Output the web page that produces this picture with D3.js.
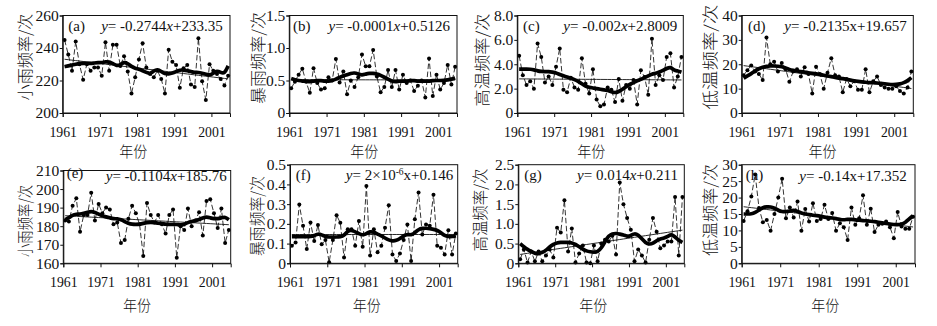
<!DOCTYPE html>
<html><head><meta charset="utf-8">
<script src="https://cdn.jsdelivr.net/npm/d3@7"></script>
<style>body{margin:0;background:#fff}</style>
</head><body>
<svg id="c" width="937" height="326"></svg>
<script>
// ---------- DATA ----------
const years = d3.range(1961, 2006);
const xTickYears = [1961, 1971, 1981, 1991, 2001];

// (a) 小雨频率 (period 1)
const lightRainA = [245,236,226,244,230,220.5,230,226,228,228,223,243.5,226,242,242,229,235,225.5,212,222,233,243,228,224,222,226,221,212,239,231.5,229.5,215.5,227.5,229.5,217.5,216,246,219.5,208,230,226,224,221,217,223];
const lightRainSmoothA = [228.5,229,229.5,230,230.5,230.5,230.5,230.5,230.8,231,231,231.5,231.5,230.5,229,229.5,231.5,230.5,228.5,227.5,227,226,225,224,226,227,225.5,224,224,224.5,225.5,226.5,226.5,226,225.5,225,225,224.5,224,223,224.5,226,225,224,229];
// (b) 暴雨频率
const rainstormB = [0.38,0.48,0.59,0.68,0.48,0.31,0.69,0.46,0.36,0.38,0.55,0.5,0.83,0.47,0.64,0.29,0.5,0.4,0.55,0.9,0.72,0.72,0.97,0.56,0.32,0.4,0.66,0.4,0.66,0.36,0.59,0.46,0.5,0.34,0.42,0.5,0.24,0.84,0.26,0.59,0.36,0.46,0.74,0.44,0.71];
const rainstormSmoothB = [0.53,0.51,0.5,0.49,0.49,0.48,0.49,0.5,0.5,0.49,0.49,0.5,0.52,0.55,0.57,0.59,0.61,0.62,0.6,0.58,0.6,0.61,0.61,0.6,0.58,0.55,0.52,0.49,0.48,0.49,0.49,0.49,0.5,0.5,0.49,0.49,0.49,0.49,0.5,0.5,0.5,0.5,0.51,0.52,0.54];
// (c) 高温频率
const heatC = [4.7,3.1,2.3,2.6,2.0,5.7,4.6,2.5,3.0,2.3,3.8,5.3,1.9,1.7,2.9,2.1,1.9,4.5,2.4,1.6,3.6,1.1,0.55,0.7,2.1,1.9,0.9,2.8,1.0,2.3,2.0,2.7,0.7,3.5,2.95,1.5,6.1,2.3,3.1,2.7,4.6,4.9,2.1,3.0,4.6];
const heatSmoothC = [3.6,3.6,3.6,3.6,3.55,3.45,3.4,3.4,3.4,3.35,3.3,3.15,3.05,2.95,2.85,2.75,2.6,2.4,2.2,2.1,2.05,2.0,1.95,1.9,1.85,1.75,1.65,1.75,1.95,2.15,2.35,2.5,2.65,2.75,2.9,3.05,3.2,3.25,3.35,3.5,3.65,3.8,3.5,3.45,3.35];
// (d) 低温频率
const coldD = [15.5,17.5,19.5,17,16,13.5,31,20,21,17,20.5,18,12.8,17,18,15,18.8,16,8,19,16,10,16.5,22.5,15.5,15,8.5,14,11,13,9.5,9.5,18,8.5,13,15,11.5,10.5,10,10,11,9,8,10.5,17];
const coldSmoothD = [14.3,15.2,16.1,17.3,18.2,18.8,19.2,19.3,19.3,19.2,19,18.5,17.8,17.5,17.2,17,16.8,16.5,16.3,16.1,15.8,15.5,15.2,14.9,14.6,14.3,14.1,13.8,13.5,13.2,13,12.8,12.6,12.5,12.4,12.3,12.2,12,11.8,11.6,11.7,11.9,12.4,13.2,14.5];
// (e) 小雨频率 (period 2)
const lightRainE = [183,182.5,191,195,177,186,186,198,183,192,187,190,189,181,182,171,172.5,184,191,187,181,164,192.5,186,182,186,181,176,186,189,163,180,178,189.5,180,183,187.5,175,193.5,194.5,187,179,189.5,171,178];
const lightRainSmoothE = [183.5,184.5,186,186.5,186.5,187,187.5,188,187.5,186.5,185.5,185,184.5,184,184,183.5,182.5,181.5,181,181,181,181.5,182,182,182,181.5,181.5,181,181,181,181,180.5,181,182,182.5,183,183.5,184.5,185,184.5,184,184,184.5,185,183.5];
// (f) 暴雨频率
const rainstormF = [0.089,0.106,0.298,0.19,0.072,0.207,0.113,0.194,0.096,0.118,0.005,0.118,0.244,0.205,0.029,0.173,0.173,0.089,0.214,0.084,0.392,0.039,0.173,0.056,0.089,0.18,0.295,0.045,0.012,0.05,0.118,0.197,0.012,0.224,0.359,0.146,0.197,0.19,0.348,0.089,0.079,0.045,0.168,0.045,0.151];
const rainstormSmoothF = [0.135,0.135,0.135,0.135,0.135,0.135,0.14,0.15,0.145,0.135,0.133,0.133,0.133,0.135,0.14,0.165,0.168,0.16,0.15,0.142,0.15,0.162,0.158,0.148,0.14,0.128,0.118,0.113,0.115,0.125,0.14,0.148,0.142,0.155,0.172,0.178,0.178,0.176,0.172,0.168,0.155,0.14,0.135,0.135,0.14];
// (g) 高温频率
const heatG = [0.1,0.35,0.02,0.3,0.05,0.3,0.05,0.2,0.35,0.15,0.9,0.78,1.6,0.3,0.88,0.02,0.25,0.45,0.02,0.0,0.45,0.05,0.5,0.6,0.55,0.7,0.22,2.05,1.5,1.15,0.85,0.05,0.35,0.2,0.02,0.6,1.15,0.8,0.38,0.45,0.55,0.55,1.68,0.2,1.68];
const heatSmoothG = [0.5,0.42,0.35,0.3,0.25,0.24,0.27,0.33,0.42,0.48,0.52,0.53,0.53,0.53,0.52,0.48,0.42,0.36,0.31,0.29,0.28,0.29,0.38,0.55,0.7,0.75,0.76,0.74,0.72,0.68,0.7,0.76,0.72,0.62,0.52,0.48,0.5,0.58,0.62,0.64,0.68,0.74,0.67,0.58,0.53];
// (h) 低温频率
const coldH = [12.9,15.8,20.3,27,16.8,12.5,13.2,9.9,15,20,25.7,13.7,17,13.9,18.8,9.9,16.5,12.7,18.3,12.9,13.5,17.8,13.5,15.3,9.9,12.2,11,7.1,17,11.7,13.7,20.7,11.7,16.6,9.5,11.7,12,12.7,11,7.6,15.6,11.2,10.5,10.5,14.2];
const coldSmoothH = [15,15,15,15.4,16.2,17,17.2,17.2,16.8,16.1,15.7,15.7,15.9,16.2,15.8,15.3,15,14.8,14.6,14.5,14.3,14,13.9,13.8,13.6,13.3,13.2,13.4,13.4,13.2,13.1,13,12.9,12.8,12.7,12.5,12.3,12.1,11.9,11.8,11.7,11.9,12.4,13.5,14.5];

// tick values
const yTicksA = [200,220,240,260];
const yTicksB = [0,0.5,1.0,1.5];
const yTicksC = [0,2,4,6,8];
const yTicksD = [0,10,20,30,40];
const yTicksE = [160,170,180,190,200,210];
const yTicksF = [0,0.1,0.2,0.3,0.4,0.5];
const yTicksG = [0,0.5,1.0,1.5,2.0,2.5];
const yTicksH = [0,5,10,15,20,25,30];
const yDecimals = [0,1,1,0,0,1,1,0];

// labels & regression
const panelLabels = ["(a)","(b)","(c)","(d)","(e)","(f)","(g)","(h)"];
const yTitles = ["小雨频率/次","暴雨频率/次","高温频率/次","低温频率/次","小雨频率/次","暴雨频率/次","高温频率/次","低温频率/次"];
const xTitle = "年份";
const slopes = [-0.2744,-0.0001,-0.002,-0.2135,-0.1104,2e-6,0.014,-0.14];
const intercepts = [233.35,0.5126,2.8009,19.657,185.76,0.146,0.211,17.352];
const slopeTexts = ["-0.2744","-0.0001","-0.002","-0.2135","-0.1104","2×10","0.014","-0.14"];
const slopeSup = ["","","","","","-6","",""];
const interceptTexts = ["233.35","0.5126","2.8009","19.657","185.76","0.146","0.211","17.352"];
const xItalic = [true,true,true,false,true,false,true,false];

// ---------- LAYOUT ----------
const layout = [
  {l:62.7,r:230,t:15.5,b:113, yt:[25,57,87], xt:-13, xtY:157, lab:68.3, labY:30.5, eqR:222.7, eqY:30.5},
  {l:289.3,r:457,t:15.5,b:113, yt:[258,58,92], xt:-9, xtY:157, lab:293, labY:30.5, eqR:450, eqY:30.5},
  {l:517.3,r:683.3,t:15.5,b:113, yt:[482,60,93], xt:-9, xtY:157, lab:523, labY:30.5, eqR:677.3, eqY:30.5},
  {l:741.7,r:913.3,t:15.5,b:113, yt:[710,57,105], xt:-5, xtY:157, lab:748, labY:30.5, eqR:906.7, eqY:30.5},
  {l:63.3,r:230.7,t:170.5,b:263.3, yt:[25,221,72], xt:-10, xtY:311, lab:66.7, labY:178, eqR:226.7, eqY:180.5},
  {l:290,r:457.7,t:164.7,b:263.3, yt:[257,216,80], xt:-7, xtY:311, lab:295.7, labY:179.5, eqR:453.3, eqY:180},
  {l:518.3,r:684.3,t:164.7,b:263.3, yt:[480,210,83], xt:-8, xtY:311, lab:524.3, labY:179.5, eqR:678, eqY:180},
  {l:741.7,r:915,t:164.7,b:263.3, yt:[710,210,92], xt:-3, xtY:311, lab:745.7, labY:180, eqR:906.7, eqY:180.5}
];

const panels = [
  {data: lightRainA, smooth: lightRainSmoothA, ticks: yTicksA},
  {data: rainstormB, smooth: rainstormSmoothB, ticks: yTicksB},
  {data: heatC, smooth: heatSmoothC, ticks: yTicksC},
  {data: coldD, smooth: coldSmoothD, ticks: yTicksD},
  {data: lightRainE, smooth: lightRainSmoothE, ticks: yTicksE},
  {data: rainstormF, smooth: rainstormSmoothF, ticks: yTicksF},
  {data: heatG, smooth: heatSmoothG, ticks: yTicksG},
  {data: coldH, smooth: coldSmoothH, ticks: yTicksH}
];

const SERIF = "'Liberation Serif','Times New Roman',serif";
const CJK = "'Noto Sans CJK SC','Noto Sans CJK JP',sans-serif";
const INK = "#111";
const svg = d3.select("#c");

panels.forEach((p, i) => {
  const L = layout[i];
  const x = d3.scaleLinear().domain([years[0] - 0.5, years[years.length - 1] + 0.5]).range([L.l, L.r]);
  const y = d3.scaleLinear().domain([p.ticks[0], p.ticks[p.ticks.length - 1]]).range([L.b, L.t]);
  const g = svg.append("g");

  // trend line
  const trend = years.map((yr, k) => ({yr, v: slopes[i] * (k + 1) + intercepts[i]}));
  g.append("path").datum(trend)
    .attr("d", d3.line().x(d => x(d.yr)).y(d => y(d.v)))
    .attr("fill", "none").attr("stroke", INK).attr("stroke-width", 0.9);

  // dashed observation line
  const obs = years.map((yr, k) => ({yr, v: p.data[k]}));
  g.append("path").datum(obs)
    .attr("d", d3.line().x(d => x(d.yr)).y(d => y(d.v)))
    .attr("fill", "none").attr("stroke", INK).attr("stroke-width", 0.85)
    .attr("stroke-dasharray", "5.5,2.5");

  // smoothed thick line
  const sm = years.map((yr, k) => ({yr, v: p.smooth[k]}));
  g.append("path").datum(sm)
    .attr("d", d3.line().curve(d3.curveBasis).x(d => x(d.yr)).y(d => y(d.v)))
    .attr("fill", "none").attr("stroke", "#000").attr("stroke-width", 3.7)
    .attr("stroke-linejoin", "round");

  // dots
  g.selectAll("circle.pt").data(obs).join("circle")
    .attr("cx", d => x(d.yr)).attr("cy", d => y(d.v)).attr("r", 2).attr("fill", "#000");

  // frame
  g.append("rect").attr("x", L.l).attr("y", L.t).attr("width", L.r - L.l).attr("height", L.b - L.t)
    .attr("fill", "none").attr("stroke", INK).attr("stroke-width", 1);

  // y axis
  const dec = yDecimals[i];
  const ya = g.append("g").attr("transform", `translate(${L.l},0)`)
    .call(d3.axisLeft(y).tickValues(p.ticks).tickSize(3).tickPadding(1)
      .tickFormat(d => d === 0 ? "0" : d.toFixed(dec)));
  ya.select(".domain").attr("stroke", INK);
  ya.selectAll("line").attr("stroke", INK);
  ya.selectAll("text").attr("font-family", SERIF).attr("font-size", 15.5).attr("fill", INK);

  // x axis (ticks at category boundaries)
  const xa = g.append("g").attr("transform", `translate(0,${L.b})`)
    .call(d3.axisBottom(x).tickValues(xTickYears.map(v => v - 0.5)).tickSize(4)
      .tickFormat(d => String(d + 0.5)));
  xa.select(".domain").attr("stroke", INK);
  xa.selectAll("line").attr("stroke", INK);
  xa.selectAll("text").attr("font-family", SERIF).attr("font-size", 15.5).attr("fill", INK)
    .attr("y", 24).attr("dy", 0).attr("textLength", 27.5).attr("lengthAdjust", "spacingAndGlyphs");

  // x title
  g.append("text").attr("x", (L.l + L.r) / 2 + L.xt).attr("y", L.xtY)
    .attr("text-anchor", "middle").attr("font-family", CJK).attr("font-weight", 300)
    .attr("font-size", 15).attr("fill", INK)
    .attr("textLength", 28).attr("lengthAdjust", "spacingAndGlyphs").text(xTitle);

  // y title
  g.append("text").attr("transform", `translate(${L.yt[0] + 6},${L.yt[1]}) rotate(-90)`)
    .attr("text-anchor", "middle").attr("font-family", CJK).attr("font-weight", 300)
    .attr("font-size", 16).attr("fill", INK)
    .attr("textLength", L.yt[2]).attr("lengthAdjust", "spacingAndGlyphs").text(yTitles[i]);

  // panel label
  g.append("text").attr("x", L.lab).attr("y", L.labY).attr("font-family", SERIF).attr("font-size", 15)
    .attr("fill", INK).text(panelLabels[i]);

  // equation
  const eq = g.append("text").attr("x", L.eqR).attr("y", L.eqY).attr("text-anchor", "end")
    .attr("font-family", SERIF).attr("font-size", 15).attr("fill", INK);
  eq.append("tspan").attr("font-style", "italic").text("y");
  eq.append("tspan").text("= " + slopeTexts[i]);
  if (slopeSup[i]) {
    eq.append("tspan").attr("font-size", 9.5).attr("dy", -5.5).text(slopeSup[i]);
    eq.append("tspan").attr("dy", 5.5).attr("font-style", xItalic[i] ? "italic" : "normal").text("x");
  } else {
    eq.append("tspan").attr("font-style", xItalic[i] ? "italic" : "normal").text("x");
  }
  eq.append("tspan").text("+" + interceptTexts[i]);
});
</script>
</body></html>
